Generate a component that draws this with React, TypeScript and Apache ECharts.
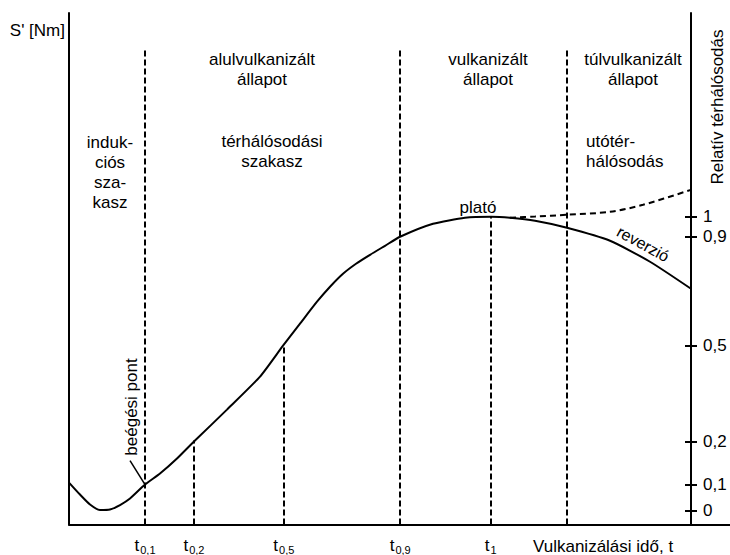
import React, { useEffect, useRef } from 'react';
import * as echarts from 'echarts';

// Vulcanisation time (arbitrary units, 0..100 along the time axis)
const curveT = [0, 1.66, 3.18, 4.69, 6.2, 7.72, 9.23, 11.5, 13.77, 16.34, 19.06, 23.9, 28.9, 32.38, 34.95, 37.52, 39.49, 41.45, 43.42, 45.54, 47.81, 50.08, 55.07, 59.91, 63.84, 66.72, 70.5, 75.34, 81.85, 87.9, 94.1];
// Torque S' (arbitrary units, 0..100 along the torque axis)
const curveS = [8.2, 5.86, 3.91, 2.83, 2.93, 3.81, 5.08, 7.81, 9.96, 12.89, 16.41, 22.46, 28.91, 34.96, 39.26, 43.55, 46.48, 49.02, 50.98, 52.73, 54.49, 56.25, 58.79, 59.96, 60.16, 59.96, 59.38, 58.01, 55.47, 51.37, 46.09];

// Post-crosslinking (marching) branch
const overT = [66.72, 70.5, 75.34, 81.85, 86.84, 94.1];
const overS = [59.96, 60.2, 60.55, 61.13, 62.5, 65.43];

// Characteristic times t_x and the torque level reached at each
const tLabels = ['0,1', '0,2', '0,5', '0,9', '1'];
const tTimes = [11.5, 18.9, 32.5, 50.1, 63.8];
const tLevels = [7.81, 16.4, 35.0, 56.25, 60.16];

// Zone boundaries (full-height dashed lines)
const zoneBounds = [11.5, 50.1, 75.3];
const zoneTop = 93.2;

// Relative crosslinking axis ticks (right)
const relLabels = ['0', '0,1', '0,2', '0,5', '0,9', '1'];
const relTickS = [2.73, 7.81, 16.2, 35.0, 56.3, 60.2];

// Scorch point label anchor
const scorchLabelEnd = [9.23, 12.5];

const FONT = "'Liberation Sans', Arial, sans-serif";
const BLACK = '#000';

export default function App() {
  const ref = useRef<HTMLDivElement>(null);

  useEffect(() => {
    if (!ref.current) return;
    const chart = echarts.init(ref.current, null, { renderer: 'svg' });

    const axisLine = { show: true, onZero: false, lineStyle: { color: BLACK, width: 2 } };
    const txt = (text: string, x: number, y: number, extra: any = {}, style: any = {}) => ({
      type: 'text',
      x,
      y,
      silent: true,
      ...extra,
      style: {
        text,
        fill: BLACK,
        font: `17px ${FONT}`,
        align: 'center',
        verticalAlign: 'top',
        lineHeight: 20,
        ...style,
      },
    });

    const markData: any[] = [];
    zoneBounds.forEach((x) => {
      markData.push([{ coord: [x, 0] }, { coord: [x, zoneTop] }]);
    });
    tTimes.forEach((x, i) => {
      if (zoneBounds.indexOf(x) >= 0) return;
      markData.push([{ coord: [x, 0] }, { coord: [x, tLevels[i]] }]);
    });
    markData.push([
      { coord: [tTimes[0], tLevels[0]], lineStyle: { type: 'solid', width: 1.5, color: BLACK } },
      { coord: scorchLabelEnd },
    ]);

    const option: any = {
      animation: false,
      grid: { left: 69, right: 0, top: 13, bottom: 30 },
      xAxis: {
        type: 'value',
        min: 0,
        max: 100,
        axisLine,
        axisTick: { show: false },
        splitLine: { show: false },
        axisLabel: {
          customValues: tTimes,
          margin: 10,
          formatter: (v: number) => {
            const i = tTimes.indexOf(v);
            return i < 0 ? '' : `{t|t}{s|${tLabels[i]}}`;
          },
          rich: {
            t: { fontSize: 17, lineHeight: 21, fontFamily: FONT, color: BLACK },
            s: { fontSize: 11, lineHeight: 12, padding: [9, 0, 0, 1], fontFamily: FONT, color: BLACK },
          },
        },
      },
      yAxis: [
        {
          type: 'value',
          min: 0,
          max: 100,
          position: 'left',
          axisLine,
          axisTick: { show: false },
          axisLabel: { show: false },
          splitLine: { show: false },
        },
        {
          type: 'value',
          min: 0,
          max: 100,
          position: 'right',
          offset: -39,
          axisLine,
          axisTick: { show: true, inside: true, length: 6, customValues: relTickS, lineStyle: { color: BLACK, width: 2 } },
          axisLabel: { show: false },
          splitLine: { show: false },
        },
        {
          type: 'value',
          min: 0,
          max: 100,
          position: 'right',
          offset: -39,
          axisLine: { show: false, onZero: false },
          axisTick: { show: true, inside: false, length: 6, customValues: relTickS, lineStyle: { color: BLACK, width: 2 } },
          axisLabel: {
            customValues: relTickS,
            margin: 12,
            fontSize: 17,
            fontFamily: FONT,
            color: BLACK,
            formatter: (v: number) => {
              const i = relTickS.indexOf(v);
              return i < 0 ? '' : relLabels[i];
            },
          },
          splitLine: { show: false },
        },
      ],
      series: [
        {
          type: 'line',
          data: curveT.map((t, i) => [t, curveS[i]]),
          smooth: 0.2,
          symbol: 'none',
          lineStyle: { color: BLACK, width: 2 },
          silent: true,
          markLine: {
            silent: true,
            symbol: ['none', 'none'],
            label: { show: false },
            lineStyle: { color: BLACK, width: 2, type: [6, 3] },
            data: markData,
          },
        },
        {
          type: 'line',
          data: overT.map((t, i) => [t, overS[i]]),
          smooth: 0.3,
          symbol: 'none',
          lineStyle: { color: BLACK, width: 2, type: [6, 4] },
          silent: true,
        },
      ],
      graphic: [
        txt("S' [Nm]", 65, 30, {}, { align: 'right', verticalAlign: 'middle' }),
        txt('alulvulkanizált\nállapot', 262, 49),
        txt('vulkanizált\nállapot', 488, 49),
        txt('túlvulkanizált\nállapot', 633, 49),
        txt('induk-\nciós\nsza-\nkasz', 110, 132),
        txt('térhálósodási\nszakasz', 272, 131),
        txt('utótér-\nhálósodás', 586, 131, {}, { align: 'left' }),
        txt('plató', 478, 207, {}, { verticalAlign: 'middle' }),
        txt('beégési pont', 131, 407, { rotation: Math.PI / 2 }, { verticalAlign: 'middle' }),
        txt('reverzió', 643, 244, { rotation: -0.5 }, { verticalAlign: 'middle', font: `16px ${FONT}` }),
        txt('Relatív térhálósodás', 717, 107, { rotation: Math.PI / 2 }, { verticalAlign: 'middle' }),
        txt('Vulkanizálási idő, t', 533, 546, {}, { align: 'left', verticalAlign: 'middle' }),
      ],
    };

    chart.setOption(option);
    return () => chart.dispose();
  }, []);

  return <div ref={ref} style={{ position: 'absolute', left: 0, top: 0, width: 730, height: 555 }} />;
}
